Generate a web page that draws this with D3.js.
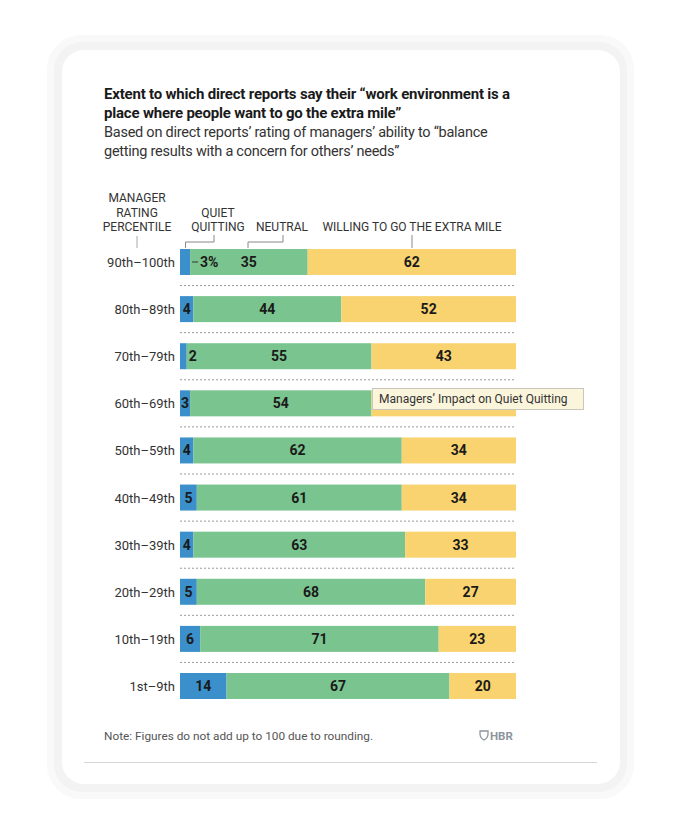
<!DOCTYPE html>
<html><head><meta charset="utf-8">
<script src="https://cdn.jsdelivr.net/npm/d3@7"></script>
<style>
html,body{margin:0;padding:0;background:#fff;}
svg{display:block;font-family:Roboto,"Noto Sans",sans-serif;}
</style></head>
<body>
<svg id="chart" width="682" height="835"></svg>
<script>
const rows = ["90th–100th","80th–89th","70th–79th","60th–69th","50th–59th","40th–49th","30th–39th","20th–29th","10th–19th","1st–9th"];
const quiet = [3,4,2,3,4,5,4,5,6,14];
const neutral = [35,44,55,54,62,61,63,68,71,67];
const willing = [62,52,43,43,34,34,33,27,23,20];
const seriesNames = ["QUIET QUITTING","NEUTRAL","WILLING TO GO THE EXTRA MILE"];
const colors = ["#3b8fca","#7ac48f","#f9d36f"];
const titleLines = ["Extent to which direct reports say their “work environment is a","place where people want to go the extra mile”"];
const subtitleLines = ["Based on direct reports’ rating of managers’ ability to “balance","getting results with a concern for others’ needs”"];
const note = "Note: Figures do not add up to 100 due to rounding.";
const tooltipText = "Managers’ Impact on Quiet Quitting";

const svg = d3.select("#chart");

// card
svg.append("rect").attr("x",47).attr("y",35).attr("width",587).attr("height",764).attr("rx",34).attr("fill","#f9f9f9");
svg.append("rect").attr("x",54).attr("y",42).attr("width",573).attr("height",750).attr("rx",28).attr("fill","#f3f3f3");
svg.append("rect").attr("x",62).attr("y",50).attr("width",558).attr("height",734).attr("rx",22).attr("fill","#ffffff");

// title
const t = svg.append("g");
titleLines.forEach((l,i)=>t.append("text").attr("x",104).attr("y",99+i*18.5).attr("font-size",15).attr("font-weight",700).attr("fill","#1a1a1a").attr("letter-spacing",-0.2).text(l));
subtitleLines.forEach((l,i)=>t.append("text").attr("x",104).attr("y",137+i*18.5).attr("font-size",14.5).attr("fill","#333").attr("letter-spacing",-0.25).text(l));

const x = d3.scaleLinear().domain([0,100]).range([180,516]);
const y = d3.scalePoint().domain(rows).range([262,686]);
const barH = 26;

const data = rows.map((r,i)=>({row:r, vals:[quiet[i],neutral[i],willing[i]]}));

// separators
const step = y.step();
rows.slice(0,-1).forEach(r=>{
  svg.append("line").attr("x1",x(0)).attr("x2",x(100)).attr("y1",y(r)+step/2).attr("y2",y(r)+step/2)
    .attr("stroke","#9a9a9a").attr("stroke-width",1).attr("stroke-dasharray","2,2");
});

// row labels
svg.append("g").selectAll("text").data(rows).join("text")
  .attr("x",175).attr("y",d=>y(d)+5).attr("text-anchor","end").attr("font-size",13).attr("fill","#333").text(d=>d);

// bars (each row normalised to its total, as in the original)
const barG = svg.append("g"), labG = svg.append("g");
data.forEach((d,i)=>{
  const total = d3.sum(d.vals);
  let cum=0;
  d.vals.forEach((v,k)=>{
    const x0 = x(cum/total*100), x1 = x((cum+v)/total*100);
    barG.append("rect").attr("x",x0).attr("y",y(d.row)-barH/2).attr("width",x1-x0).attr("height",barH).attr("fill",colors[k]);
    let label = String(v), lx = (x0+x1)/2, anchor="middle";
    if(k===0 && i===0){ label = v+"%"; lx = x1+10; anchor="start";
      labG.append("line").attr("x1",x1+2).attr("x2",x1+8).attr("y1",y(d.row)).attr("y2",y(d.row)).attr("stroke","#333").attr("stroke-width",1);
    } else if(k===0 && x1-x0 < 9){ lx = x1+2; anchor="start"; }
    labG.append("text").attr("x",lx).attr("y",y(d.row)+5).attr("text-anchor",anchor).attr("font-size",14).attr("font-weight",700).attr("fill","#1a1a1a").text(label);
    cum+=v;
  });
});

// header labels
const hdr = svg.append("g").attr("font-size",12).attr("fill","#333").attr("text-anchor","middle");
["MANAGER","RATING","PERCENTILE"].forEach((l,i)=>hdr.append("text").attr("x",137).attr("y",202+i*14.5).text(l));
hdr.append("line").attr("x1",137).attr("x2",137).attr("y1",236).attr("y2",248).attr("stroke","#aaa");
["QUIET","QUITTING"].forEach((l,i)=>hdr.append("text").attr("x",218).attr("y",216.5+i*14.5).text(l));
hdr.append("text").attr("x",282).attr("y",231).text(seriesNames[1]);
hdr.append("text").attr("x",412).attr("y",231).text(seriesNames[2]);
const top0 = y(rows[0]) - barH/2;
const leader = (pts)=>svg.append("path").attr("d",d3.line()(pts)).attr("fill","none").attr("stroke","#888").attr("stroke-width",1);
leader([[214,235],[214,242],[x(quiet[0]/2)+0.5,242],[x(quiet[0]/2)+0.5,top0-1]]);
leader([[283,235],[283,242],[248,242],[248,top0-1]]);
leader([[412,235],[412,top0-1]]);

// note
svg.append("text").attr("x",104).attr("y",740).attr("font-size",11.8).attr("fill","#555").text(note);
// HBR logo
const logo = svg.append("g").attr("fill","#8d959c");
logo.append("path").attr("d","M480,731 h8 v3 q0,4 -4,6 q-4,-2 -4,-6 z").attr("fill","none").attr("stroke","#8d959c").attr("stroke-width",1.3);
logo.append("text").attr("x",490).attr("y",740).attr("font-size",11.5).attr("font-weight",700).text("HBR");
// bottom rule
svg.append("line").attr("x1",84).attr("x2",597).attr("y1",762.5).attr("y2",762.5).attr("stroke","#d6d6d6");

// tooltip
const tt = svg.append("g");
tt.append("rect").attr("x",372.5).attr("y",388.5).attr("width",211).attr("height",21).attr("fill","#fbf5dc").attr("stroke","#c9c6bb");
tt.append("text").attr("x",379).attr("y",403).attr("font-size",12).attr("fill","#333").text(tooltipText);
</script>
</body></html>
